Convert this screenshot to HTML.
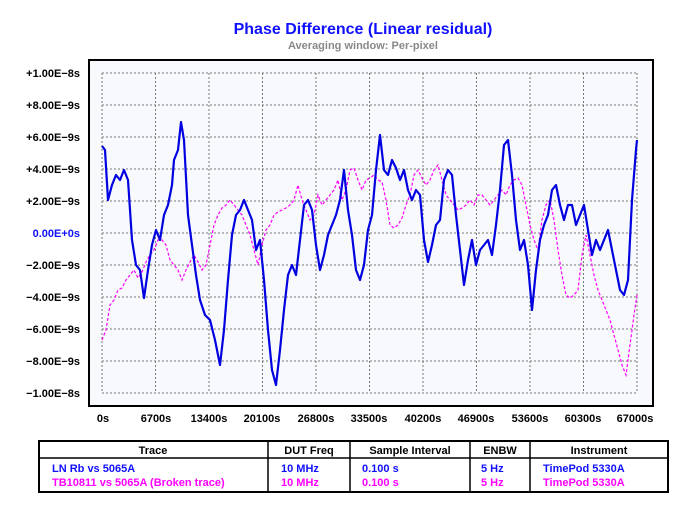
<!DOCTYPE html>
<html><head><meta charset="utf-8"><style>
body{margin:0;background:#fff;width:697px;height:525px;overflow:hidden;font-family:"Liberation Sans",sans-serif}
</style></head><body>
<svg width="697" height="525" xmlns="http://www.w3.org/2000/svg" font-family="Liberation Sans, sans-serif" font-weight="bold">
<text x="363" y="34" text-anchor="middle" font-size="16" fill="#1010ff">Phase Difference (Linear residual)</text>
<text x="363" y="49" text-anchor="middle" font-size="11" fill="#888">Averaging window: Per-pixel</text>
<rect x="89" y="60" width="564" height="346" fill="#f8f9fc" stroke="#000" stroke-width="2"/>
<g stroke="#777" stroke-dasharray="2,2" stroke-width="1" fill="none">
<path d="M102 73H637M102 105H637M102 137H637M102 169H637M102 201H637M102 233H637M102 265H637M102 297H637M102 329H637M102 361H637M102 393H637"/>
<path d="M102 73V393M155.5 73V393M209 73V393M262.5 73V393M316 73V393M369.5 73V393M423 73V393M476.5 73V393M530 73V393M583.5 73V393M637 73V393"/>
</g>
<g font-size="11" text-anchor="end" fill="#000">
<text x="80" y="77">+1.00E−8s</text><text x="80" y="109">+8.00E−9s</text><text x="80" y="141">+6.00E−9s</text><text x="80" y="173">+4.00E−9s</text><text x="80" y="205">+2.00E−9s</text><text x="80" y="237" fill="#1010ff">0.00E+0s</text><text x="80" y="269">−2.00E−9s</text><text x="80" y="301">−4.00E−9s</text><text x="80" y="333">−6.00E−9s</text><text x="80" y="365">−8.00E−9s</text><text x="80" y="397">−1.00E−8s</text>
</g>
<g font-size="11" text-anchor="middle" fill="#000">
<text x="103" y="422">0s</text><text x="156" y="422">6700s</text><text x="209" y="422">13400s</text><text x="262" y="422">20100s</text><text x="316" y="422">26800s</text><text x="369" y="422">33500s</text><text x="423" y="422">40200s</text><text x="476" y="422">46900s</text><text x="530" y="422">53600s</text><text x="583" y="422">60300s</text><text x="635" y="422">67000s</text>
</g>
<polyline fill="none" stroke="#ff00ff" stroke-width="1.2" stroke-dasharray="3,2" points="102,340 106,330 110,305 114,300 118,290 122,288 126,280 130,275 134,270 138,278 142,272 146,262 150,255 154,250 158,240 162,240 166,245 170,260 174,265 178,270 182,280 186,270 190,262 194,255 198,262 202,270 206,265 210,245 214,225 218,215 222,208 226,205 230,200 234,205 238,210 242,215 246,225 250,235 254,250 258,265 262,245 266,230 270,225 274,215 278,212 282,210 286,208 290,205 294,200 298,185 302,200 306,210 310,220 314,215 318,195 322,205 326,200 330,195 334,190 338,180 342,200 346,190 350,170 354,168 358,180 362,190 366,180 370,178 374,175 378,180 382,182 386,200 390,225 394,228 398,225 402,218 406,205 410,195 414,175 418,170 422,178 426,185 430,180 434,170 438,165 442,180 446,195 450,200 454,205 458,210 462,208 466,205 470,200 474,205 478,195 482,195 486,200 490,205 494,200 498,195 502,190 506,195 510,185 514,180 518,178 522,185 526,205 530,225 534,240 538,250 542,220 546,205 550,200 554,220 558,250 562,275 566,295 570,298 574,295 578,290 582,255 586,235 590,255 594,275 598,290 602,300 606,310 610,320 614,335 618,350 622,365 626,375 630,345 634,315 637,295"/>
<polyline fill="none" stroke="#0000e0" stroke-width="2.2" stroke-linejoin="round" points="102,146 105,150 108,200 112,185 116,175 120,180 124,170 128,180 132,240 136,265 140,270 144,298 148,270 152,245 156,230 160,240 164,215 168,205 172,185 174,160 178,150 181,122 184,140 188,215 192,245 196,275 200,300 205,315 210,320 215,340 220,365 224,330 228,280 232,235 236,215 240,210 244,200 248,210 252,220 256,250 260,240 264,280 268,330 272,370 276,385 280,350 284,310 288,275 292,265 296,275 300,240 304,205 308,200 312,210 316,245 320,270 324,255 328,235 332,225 336,215 340,200 344,170 348,210 352,235 356,270 360,280 364,265 368,230 372,215 376,170 380,135 384,170 388,175 392,160 396,168 400,180 404,170 408,190 412,200 416,190 420,195 424,240 428,262 432,245 436,225 440,220 444,180 448,170 452,175 456,215 460,250 464,285 468,260 472,240 476,265 480,250 484,245 488,240 492,255 496,225 500,190 504,145 508,140 512,175 516,220 520,250 524,240 528,265 532,310 536,270 540,240 544,225 548,215 552,190 556,185 560,205 564,220 568,205 572,205 576,225 580,215 584,205 588,230 592,255 596,240 600,250 604,240 608,230 612,250 616,270 620,290 624,295 628,280 632,200 636,150 637,140"/>
<rect x="39" y="441" width="629" height="51" fill="#fff" stroke="#000" stroke-width="2"/>
<path d="M39 458H668M268 441V492M350 441V492M470 441V492M530 441V492" stroke="#000" stroke-width="1.5"/>
<g font-size="11" text-anchor="middle" fill="#000">
<text x="153" y="454">Trace</text><text x="309" y="454">DUT Freq</text><text x="410" y="454">Sample Interval</text><text x="500" y="454">ENBW</text><text x="599" y="454">Instrument</text>
</g>
<g font-size="11" fill="#1010ff">
<text x="52" y="472">LN Rb vs 5065A</text><text x="281" y="472">10 MHz</text><text x="362" y="472">0.100 s</text><text x="481" y="472">5 Hz</text><text x="543" y="472">TimePod 5330A</text>
</g>
<g font-size="11" fill="#ff00ff">
<text x="52" y="486">TB10811 vs 5065A (Broken trace)</text><text x="281" y="486">10 MHz</text><text x="362" y="486">0.100 s</text><text x="481" y="486">5 Hz</text><text x="543" y="486">TimePod 5330A</text>
</g>
</svg>
</body></html>
